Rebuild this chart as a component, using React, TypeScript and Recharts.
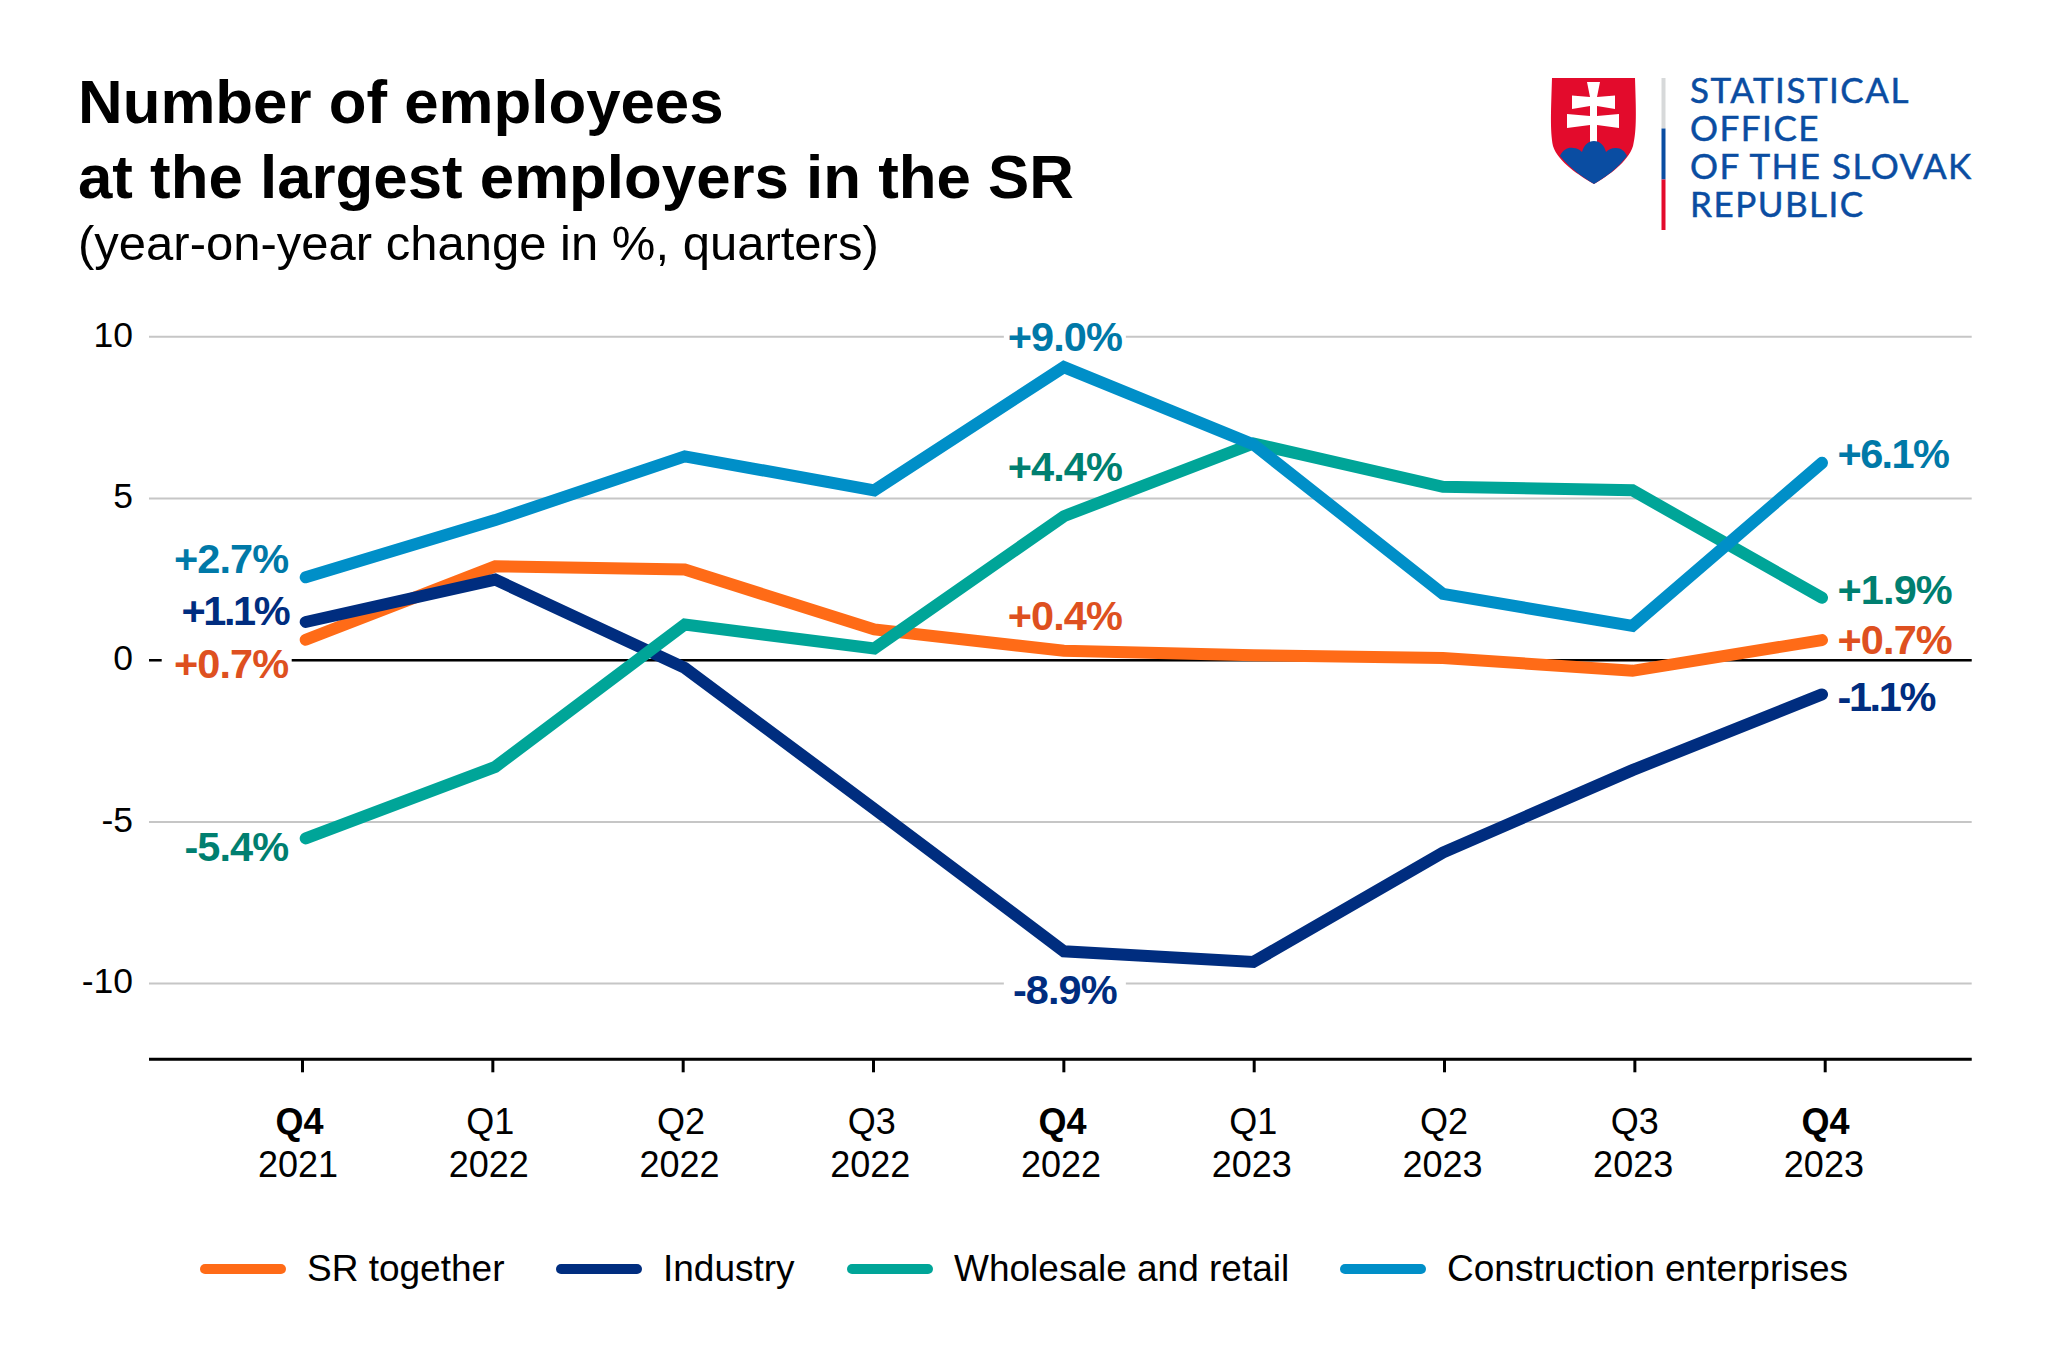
import { LineChart, Line, XAxis, YAxis, CartesianGrid, ReferenceLine, LabelList, Legend } from 'recharts';

const quarters = ['Q4', 'Q1', 'Q2', 'Q3', 'Q4', 'Q1', 'Q2', 'Q3', 'Q4'];
const years = ['2021', '2022', '2022', '2022', '2022', '2023', '2023', '2023', '2023'];
const yTicks = [-10, -5, 0, 5, 10];

const srTogether = [0.63, 2.9, 2.8, 0.95, 0.29, 0.15, 0.07, -0.33, 0.62];
const industry = [1.18, 2.49, -0.24, -4.6, -9.0, -9.33, -5.95, -3.4, -1.06];
const wholesale = [-5.51, -3.3, 1.1, 0.36, 4.45, 6.7, 5.36, 5.25, 1.93];
const construction = [2.56, 4.33, 6.3, 5.25, 9.06, 6.67, 2.05, 1.06, 6.1];

const srLabels = ['+0.7%', null, null, null, '+0.4%', null, null, null, '+0.7%'];
const industryLabels = ['+1.1%', null, null, null, '-8.9%', null, null, null, '-1.1%'];
const wholesaleLabels = ['-5.4%', null, null, null, '+4.4%', null, null, null, '+1.9%'];
const constructionLabels = ['+2.7%', null, null, null, '+9.0%', null, null, null, '+6.1%'];

// baseline shift of each value label: [first, middle, last]
const srShift = [38, -20.7, 14];
const industryShift = [3, 53, 16.4];
const wholesaleShift = [23, -35, 6.6];
const constructionShift = [-4, -15.7, 5.6];

const data = quarters.map((q, i) => ({
  name: `${q} ${years[i]}`,
  sr: srTogether[i],
  industry: industry[i],
  wholesale: wholesale[i],
  construction: construction[i],
}));

const FONT = '"Liberation Sans", Arial, sans-serif';
const ORANGE = '#FF6B17';
const NAVY = '#002D7F';
const TEAL = '#00A598';
const BLUE = '#008FC8';
const LOGO_BLUE = '#0A4DA2';
const LOGO_RED = '#E30B2C';

const legendItems = [
  { label: 'SR together', color: ORANGE, left: 200 },
  { label: 'Industry', color: NAVY, left: 556 },
  { label: 'Wholesale and retail', color: TEAL, left: 847 },
  { label: 'Construction enterprises', color: BLUE, left: 1340 },
];

function XTick({ x, y, index }: any) {
  const markX = x + (index - 4) * 0.8;
  const textX = x - 7.7 + index * 1.2;
  const bold = quarters[index] === 'Q4';
  return (
    <g>
      <line x1={markX} x2={markX} y1={y} y2={y + 13} stroke="#000" strokeWidth={3} />
      <text x={textX + 1.5} y={y + 75} textAnchor="middle" fontFamily={FONT} fontSize={36} fontWeight={bold ? 700 : 400} fill="#000">
        {quarters[index]}
      </text>
      <text x={textX} y={y + 117.4} textAnchor="middle" fontFamily={FONT} fontSize={36} fill="#000">
        {years[index]}
      </text>
    </g>
  );
}

function YTick({ x, y, payload }: any) {
  return (
    <text x={x} y={y + 9.8} textAnchor="end" fontFamily={FONT} fontSize={35.5} fill="#000">
      {payload.value}
    </text>
  );
}

function valueLabel(labels: (string | null)[], shifts: number[], color: string) {
  return (props: any) => {
    const { x, y, index } = props;
    const text = labels[index];
    if (!text) return null;
    const first = index === 0;
    const last = index === labels.length - 1;
    const shift = shifts[first ? 0 : last ? 2 : 1];
    const anchor = first ? 'end' : last ? 'start' : 'middle';
    const textX = first ? x - 17.4 : last ? x + 15.5 : x + 1;
    const boxX = first ? x - 144 : last ? x + 14 : x - 60;
    const boxW = first || last ? 130 : 122;
    // the source font closes up the pairs around ".1"
    const spacing = text.includes('1.1') ? -2.4 : text.includes('.1') ? -1.6 : -0.9;
    return (
      <g>
        <rect x={boxX} y={y + shift - 31} width={boxW} height={34} fill="#fff" />
        <text x={textX} y={y + shift} textAnchor={anchor} fontFamily={FONT} fontSize={41.5} fontWeight={700} fill={color} letterSpacing={spacing}>
          {text}
        </text>
      </g>
    );
  };
}

function ChartLegend() {
  return (
    <div style={{ position: 'relative', width: 2048, height: 44 }}>
      {legendItems.map((item) => (
        <div key={item.label} style={{ position: 'absolute', left: item.left, top: 0, height: 44, display: 'flex', alignItems: 'center' }}>
          <span style={{ display: 'block', width: 86, height: 9.5, borderRadius: 5, background: item.color, marginRight: 21 }} />
          <span style={{ fontFamily: FONT, fontSize: 37, color: '#000', whiteSpace: 'nowrap', lineHeight: '44px' }}>{item.label}</span>
        </div>
      ))}
    </div>
  );
}

function Header() {
  return (
    <svg width={2048} height={300} style={{ position: 'absolute', left: 0, top: 0 }}>
      <text x={78} y={123.3} fontFamily={FONT} fontSize={61.8} fontWeight={700} fill="#000">Number of employees</text>
      <text x={78} y={197.7} fontFamily={FONT} fontSize={61.8} fontWeight={700} fill="#000">at the largest employers in the SR</text>
      <text x={78} y={260} fontFamily={FONT} fontSize={49} fill="#000">(year-on-year change in %, quarters)</text>

      <path d="M1552 78 H1635 C1636 110 1637 130 1633 146 C1628 162 1608 176 1594 184 C1580 176 1558 162 1553 146 C1550 130 1551 110 1552 78 Z" fill={LOGO_RED} />
      <path d="M1587 82 H1600 L1597 97 L1615 95.5 V109 L1597 106 V116 L1619 114 V128 L1597 125 V145 H1590 V125 L1567 128 V114 L1590 116 V106 L1572 109 V95.5 L1590 97 Z" fill="#fff" />
      <path d="M1560 156 C1563 149 1569 147 1573 148 C1577 148 1580 150 1582 152 C1584 145 1588 141 1594 141 C1600 141 1604 145 1606 152 C1608 150 1611 148 1616 148 C1621 148 1625 151 1627 156 C1618 168 1606 177 1594 184 C1582 177 1570 168 1560 156 Z" fill={LOGO_BLUE} />

      <rect x={1661.5} y={78} width={4} height={50.5} fill="#D7D9DA" />
      <rect x={1661.5} y={128.5} width={4} height={51} fill={LOGO_BLUE} />
      <rect x={1661.5} y={179.5} width={4} height={50.5} fill={LOGO_RED} />

      <g fontFamily="Lato, sans-serif" fontSize={35} fill={LOGO_BLUE} stroke={LOGO_BLUE} strokeWidth={0.5} letterSpacing={1.5}>
        <text x={1690} y={102.7}>STATISTICAL</text>
        <text x={1690} y={140.7}>OFFICE</text>
        <text x={1690} y={178.7}>OF THE SLOVAK</text>
        <text x={1690} y={216.7}>REPUBLIC</text>
      </g>
    </svg>
  );
}

export default function App() {
  return (
    <div style={{ position: 'absolute', left: 0, top: 0, width: 2048, height: 1365, background: '#fff' }}>
      <LineChart width={2048} height={1365} data={data} margin={{ top: 336.7, right: 76.3, bottom: 0, left: 0 }}>
        <CartesianGrid horizontal vertical={false} stroke="#C6C6C6" strokeWidth={2} />
        <XAxis
          dataKey="name"
          axisLine={{ stroke: '#000', strokeWidth: 3 }}
          tickLine={false}
          tickSize={0}
          tickMargin={0}
          height={261.7}
          padding={{ left: 156.7, right: 149.7 }}
          interval={0}
          tick={<XTick />}
        />
        <YAxis
          type="number"
          domain={[-12.34, 10]}
          ticks={yTicks}
          width={149}
          axisLine={false}
          tickLine={false}
          tickSize={0}
          tickMargin={16}
          tick={<YTick />}
        />
        <ReferenceLine y={0} stroke="#000" strokeWidth={2.5} />
        <Legend
          content={<ChartLegend />}
          wrapperStyle={{ left: 0, top: 1247, bottom: 'auto', width: 2048, height: 44 }}
        />
        <Line dataKey="sr" stroke={ORANGE} strokeWidth={12} strokeLinecap="round" strokeLinejoin="miter" dot={false} isAnimationActive={false}>
          <LabelList dataKey="sr" content={valueLabel(srLabels, srShift, '#DE5020')} />
        </Line>
        <Line dataKey="industry" stroke={NAVY} strokeWidth={12} strokeLinecap="round" strokeLinejoin="miter" dot={false} isAnimationActive={false}>
          <LabelList dataKey="industry" content={valueLabel(industryLabels, industryShift, NAVY)} />
        </Line>
        <Line dataKey="wholesale" stroke={TEAL} strokeWidth={12} strokeLinecap="round" strokeLinejoin="miter" dot={false} isAnimationActive={false}>
          <LabelList dataKey="wholesale" content={valueLabel(wholesaleLabels, wholesaleShift, '#007F70')} />
        </Line>
        <Line dataKey="construction" stroke={BLUE} strokeWidth={12} strokeLinecap="round" strokeLinejoin="miter" dot={false} isAnimationActive={false}>
          <LabelList dataKey="construction" content={valueLabel(constructionLabels, constructionShift, '#0079A8')} />
        </Line>
      </LineChart>
      <Header />
    </div>
  );
}
